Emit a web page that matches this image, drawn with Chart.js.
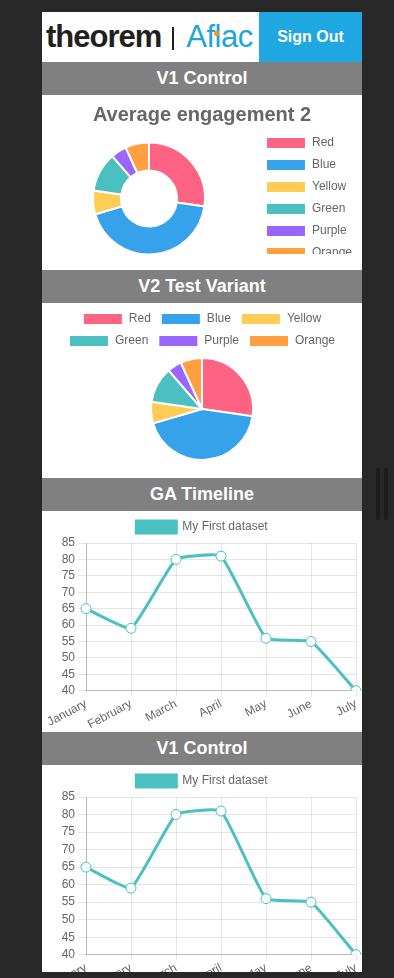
<!DOCTYPE html>
<html>
<head>
<meta charset="utf-8">
<title>Dashboard</title>
<script src="https://cdn.jsdelivr.net/npm/chart.js@4.4.1/dist/chart.umd.min.js"></script>
<style>
  html, body { margin: 0; padding: 0; background: #282828; overflow: hidden; }
  body { width: 394px; height: 978px; position: relative; font-family: "Liberation Sans", Arial, Helvetica, sans-serif; }
  .panel { position: absolute; left: 42px; top: 12px; width: 320px; height: 960px; background: #fff; overflow: hidden; }
  .topbar { display: flex; height: 50px; }
  .logo { width: 217px; display: flex; align-items: center; padding-left: 4px; box-sizing: border-box; }
  .logo .theorem { font-weight: bold; font-size: 31px; color: #231f20; letter-spacing: -1px; }
  .logo .bar { width: 2px; height: 23px; background: #231f20; margin: 3px 12px 0 11px; }
  .logo .aflac { font-size: 31px; color: #1ea3dc; letter-spacing: -0.5px; position: relative; }
  .logo .aflac .duck { position: absolute; left: 28px; top: 12px; width: 5px; height: 5px; background: #f7941d; border-radius: 50% 0 50% 50%; }
  .signout { width: 103px; background: #1ea7e1; color: #fff; font-weight: bold; font-size: 16px;
             display: flex; align-items: center; justify-content: center; }
  .section-title { height: 33px; line-height: 33px; background: #808080; color: #fff; font-weight: bold;
                   font-size: 18px; text-align: center; }
  .chart-box { position: relative; overflow: hidden; }
  .clip { overflow: hidden; }
  canvas { display: block; }
  .scroll { position: absolute; top: 468px; width: 4px; height: 52px; background: #1b1b1b; border-radius: 2px; }
</style>
</head>
<body>
<div class="panel">
  <div class="topbar">
    <div class="logo">
      <span class="theorem">theorem</span><span class="bar"></span><span class="aflac">Aflac<span class="duck"></span></span>
    </div>
    <div class="signout">Sign Out</div>
  </div>

  <div class="section-title">V1 Control</div>
  <div class="chart-box" style="height:175px">
    <div class="clip" style="height:159px"><canvas id="v1Doughnut" width="320" height="175"></canvas></div>
  </div>

  <div class="section-title">V2 Test Variant</div>
  <div class="chart-box" style="height:175px">
    <canvas id="v2Pie" width="320" height="158"></canvas>
  </div>

  <div class="section-title">GA Timeline</div>
  <div class="chart-box" style="height:221px">
    <canvas id="gaLine" width="320" height="221"></canvas>
  </div>

  <div class="section-title">V1 Control</div>
  <div class="chart-box" style="height:240px">
    <canvas id="v1Line" width="320" height="231"></canvas>
  </div>
</div>
<div class="scroll" style="left:376px"></div>
<div class="scroll" style="left:384px"></div>

<script>
// colour names used as slice labels
const sliceLabels = ['Red', 'Blue', 'Yellow', 'Green', 'Purple', 'Orange'];
const v1Values = [12, 19, 3, 5, 2, 3];
const v2Values = [12, 19, 3, 5, 2, 3];
const sliceColors = [
    'rgb(255, 99, 132)',
    'rgb(54, 162, 235)',
    'rgb(255, 205, 86)',
    'rgb(75, 192, 192)',
    'rgb(153, 102, 255)',
    'rgb(255, 159, 64)'
];

const months = ['January', 'February', 'March', 'April', 'May', 'June', 'July'];
const gaValues = [65, 59, 80, 81, 56, 55, 40];
const v1LineValues = [65, 59, 80, 81, 56, 55, 40];
const datasetName = 'My First dataset';
const yMin = 40;
const yMax = 85;
const yStep = 5;

const teal = 'rgb(75, 192, 192)';

Chart.defaults.font.family = '"Liberation Sans", Arial, Helvetica, sans-serif';
Chart.defaults.font.size = 12;
Chart.defaults.color = '#666';
Chart.defaults.animation = false;

// doughnut with legend on the right
new Chart(document.getElementById('v1Doughnut'), {
    type: 'doughnut',
    data: {
        labels: sliceLabels,
        datasets: [{ data: v1Values, backgroundColor: sliceColors, borderColor: '#fff', borderWidth: 2 }]
    },
    options: {
        responsive: false,
        radius: 56,
        cutout: '50%',
        plugins: {
            title: {
                display: true,
                text: 'Average engagement 2',
                color: '#666',
                font: { size: 20, weight: 'bold' },
                padding: { top: 8, bottom: 0 }
            },
            legend: { position: 'right', align: 'start', fullSize: false },
            tooltip: { enabled: false }
        }
    }
});

// pie with legend on top
new Chart(document.getElementById('v2Pie'), {
    type: 'pie',
    data: {
        labels: sliceLabels,
        datasets: [{ data: v2Values, backgroundColor: sliceColors, borderColor: '#fff', borderWidth: 2 }]
    },
    options: {
        responsive: false,
        plugins: {
            legend: { position: 'top' },
            tooltip: { enabled: false }
        }
    }
});

function lineConfig(values) {
    return {
        type: 'line',
        data: {
            labels: months,
            datasets: [{
                label: datasetName,
                data: values,
                fill: false,
                backgroundColor: teal,
                borderColor: teal,
                borderWidth: 3,
                tension: 0.12,
                pointRadius: 5,
                pointBorderWidth: 1,
                pointBackgroundColor: '#fff',
                pointBorderColor: teal
            }]
        },
        options: {
            responsive: false,
            plugins: {
                legend: { position: 'top' },
                tooltip: { enabled: false }
            },
            scales: {
                x: {
                    ticks: { minRotation: 28, maxRotation: 28, padding: 0 },
                    grid: { color: 'rgba(0,0,0,0.1)', tickLength: 6 },
                    border: { color: 'rgba(0,0,0,0.2)' },
                    afterFit: (scale) => { scale.paddingRight = 6; }
                },
                y: {
                    min: yMin,
                    max: yMax,
                    ticks: { stepSize: yStep, autoSkip: false },
                    grid: { color: 'rgba(0,0,0,0.1)' },
                    border: { color: 'rgba(0,0,0,0.2)' },
                    afterFit: (scale) => { scale.width = 44; }
                }
            }
        }
    };
}

new Chart(document.getElementById('gaLine'), lineConfig(gaValues));
new Chart(document.getElementById('v1Line'), lineConfig(v1LineValues));
</script>
</body>
</html>
